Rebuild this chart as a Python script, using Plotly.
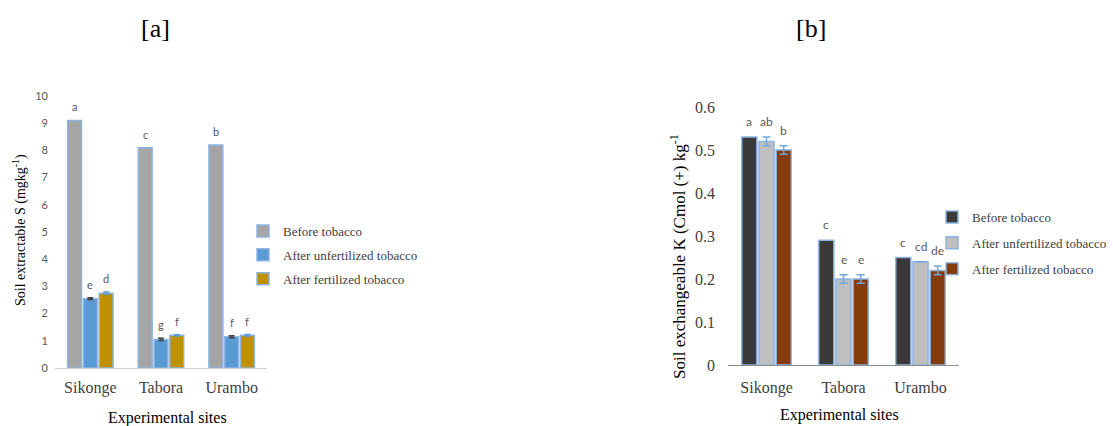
import plotly.graph_objects as go

# Experimental sites
sites = ["Sikonge", "Tabora", "Urambo"]
series = ["Before tobacco", "After unfertilized tobacco", "After fertilized tobacco"]

# [a] Soil extractable S (mg kg-1)
s_before = [9.1, 8.1, 8.2]
s_unfert = [2.55, 1.05, 1.15]
s_fert = [2.75, 1.2, 1.2]
s_err_before = None
s_err_unfert = [0.03, 0.04, 0.04]
s_err_fert = [0.04, 0.02, 0.03]
s_letters_before = ["a", "c", "b"]
s_letters_unfert = ["e", "g", "f"]
s_letters_fert = ["d", "f", "f"]

# [b] Soil exchangeable K (Cmol(+) kg-1)
k_before = [0.53, 0.29, 0.25]
k_unfert = [0.52, 0.20, 0.24]
k_fert = [0.50, 0.20, 0.22]
k_err_before = None
k_err_unfert = [0.01, 0.01, None]
k_err_fert = [0.01, 0.01, 0.01]
k_letters_before = ["a", "c", "c"]
k_letters_unfert = ["ab", "e", "cd"]
k_letters_fert = ["b", "e", "de"]

W, H = 1113, 426
SERIF = "Liberation Serif"
SANS = "Lato"
OUTLINE = "#8DB4E2"
BARGAP = 0.33
BARGROUPGAP = 0.12


def px(x):
    return x / W


def py(y):
    return 1 - y / H


fig = go.Figure()

colors_a = ["#A5A5A5", "#5B9BD5", "#BF9000"]
err_colors_a = ["#404040", "#404040", "#5B9BD5"]
colors_b = ["#3A3A3A", "#BFBFBF", "#843C0C"]

panel_a = [(s_before, s_err_before, s_letters_before),
           (s_unfert, s_err_unfert, s_letters_unfert),
           (s_fert, s_err_fert, s_letters_fert)]
panel_b = [(k_before, k_err_before, k_letters_before),
           (k_unfert, k_err_unfert, k_letters_unfert),
           (k_fert, k_err_fert, k_letters_fert)]


def error_spec(err, color, cap):
    if err is None:
        return dict(visible=False)
    return dict(type="data", array=err, visible=True,
                color=color, thickness=1.5, width=cap)


for k, (vals, err, _) in enumerate(panel_a):
    fig.add_trace(go.Bar(
        x=sites, y=vals, name=series[k], xaxis="x", yaxis="y",
        marker=dict(color=colors_a[k], line=dict(color=OUTLINE, width=1.5)),
        error_y=error_spec(err, err_colors_a[k], 3),
        legend="legend", legendgroup="a%d" % k,
    ))

for k, (vals, err, _) in enumerate(panel_b):
    fig.add_trace(go.Bar(
        x=sites, y=vals, name=series[k], xaxis="x2", yaxis="y2",
        marker=dict(color=colors_b[k], line=dict(color=OUTLINE, width=1.5)),
        error_y=error_spec(err, "#6FA8E0", 4),
        legend="legend2", legendgroup="b%d" % k,
    ))

# letter labels above each bar, placed at the grouped-bar centres
slot = (1 - BARGAP) / 3
offsets = [-(1 - BARGAP) / 2 + slot * (k + 0.5) for k in range(3)]
annotations = []
for panel, xr, yr, size, shift in [(panel_a, "x", "y", 11, 5), (panel_b, "x2", "y2", 12, 6)]:
    for k, (vals, err, letters) in enumerate(panel):
        errs = err if err is not None else [None] * len(vals)
        for i, (v, e, t) in enumerate(zip(vals, errs, letters)):
            annotations.append(dict(
                x=i + offsets[k], y=v + (e or 0), xref=xr, yref=yr, text=t,
                showarrow=False, xanchor="center", yanchor="bottom", yshift=shift,
                font=dict(family=SANS, size=size, color="#595959")))


def label(x, y, text, size, angle=0):
    return dict(x=px(x), y=py(y), xref="paper", yref="paper", text=text,
                showarrow=False, xanchor="center", yanchor="middle", textangle=angle,
                font=dict(family=SERIF, size=size, color="#000000"))


# panel titles and axis titles
annotations += [
    label(155, 29, "[a]", 26),
    label(811, 29, "[b]", 26),
    label(19, 230, "Soil extractable S (mgkg<sup>-1</sup>)", 14, -90),
    label(678, 257, "Soil exchangeable K (Cmol (+) kg<sup>-1</sup>", 17, -90),
    label(167, 418, "Experimental sites", 16),
    label(839, 415, "Experimental sites", 16),
]

fig.update_layout(
    template="none",
    font=dict(family=SERIF, size=14, color="#404040"),
    width=W, height=H,
    margin=dict(l=0, r=0, t=0, b=0, autoexpand=False),
    paper_bgcolor="white", plot_bgcolor="white",
    barmode="group", bargap=BARGAP, bargroupgap=BARGROUPGAP,
    xaxis=dict(domain=[px(55), px(267)], anchor="y", showgrid=False, automargin=False,
               showline=True, linecolor="#D0D0D0", linewidth=1, ticks="",
               tickfont=dict(family=SERIF, size=16, color="#404040"),
               ticklabelstandoff=5),
    yaxis=dict(domain=[py(368), py(96)], anchor="x", range=[0, 10], dtick=1,
               showgrid=False, showline=False, ticks="", zeroline=False, automargin=False,
               tickfont=dict(family=SANS, size=11, color="#595959"),
               ticklabelstandoff=6),
    xaxis2=dict(domain=[px(728), px(959)], anchor="y2", showgrid=False, automargin=False,
                showline=True, linecolor="#8C8C8C", linewidth=1, ticks="",
                tickfont=dict(family=SERIF, size=16, color="#404040"),
                ticklabelstandoff=8),
    yaxis2=dict(domain=[py(365), py(107)], anchor="x2", range=[0, 0.6], dtick=0.1,
                showgrid=False, showline=False, ticks="", zeroline=False, automargin=False,
                tickfont=dict(family=SERIF, size=16, color="#404040"),
                ticklabelstandoff=12),
    legend=dict(x=px(243), y=py(216), xanchor="left", yanchor="top",
                bgcolor="rgba(0,0,0,0)", traceorder="grouped", tracegroupgap=4,
                font=dict(family=SERIF, size=13, color="#404040"), itemwidth=30),
    legend2=dict(x=px(932), y=py(202), xanchor="left", yanchor="top",
                 bgcolor="rgba(0,0,0,0)", traceorder="grouped", tracegroupgap=6,
                 font=dict(family=SERIF, size=13, color="#404040"), itemwidth=30),
    annotations=annotations,
    showlegend=True,
)

fig.write_html("out.html")
